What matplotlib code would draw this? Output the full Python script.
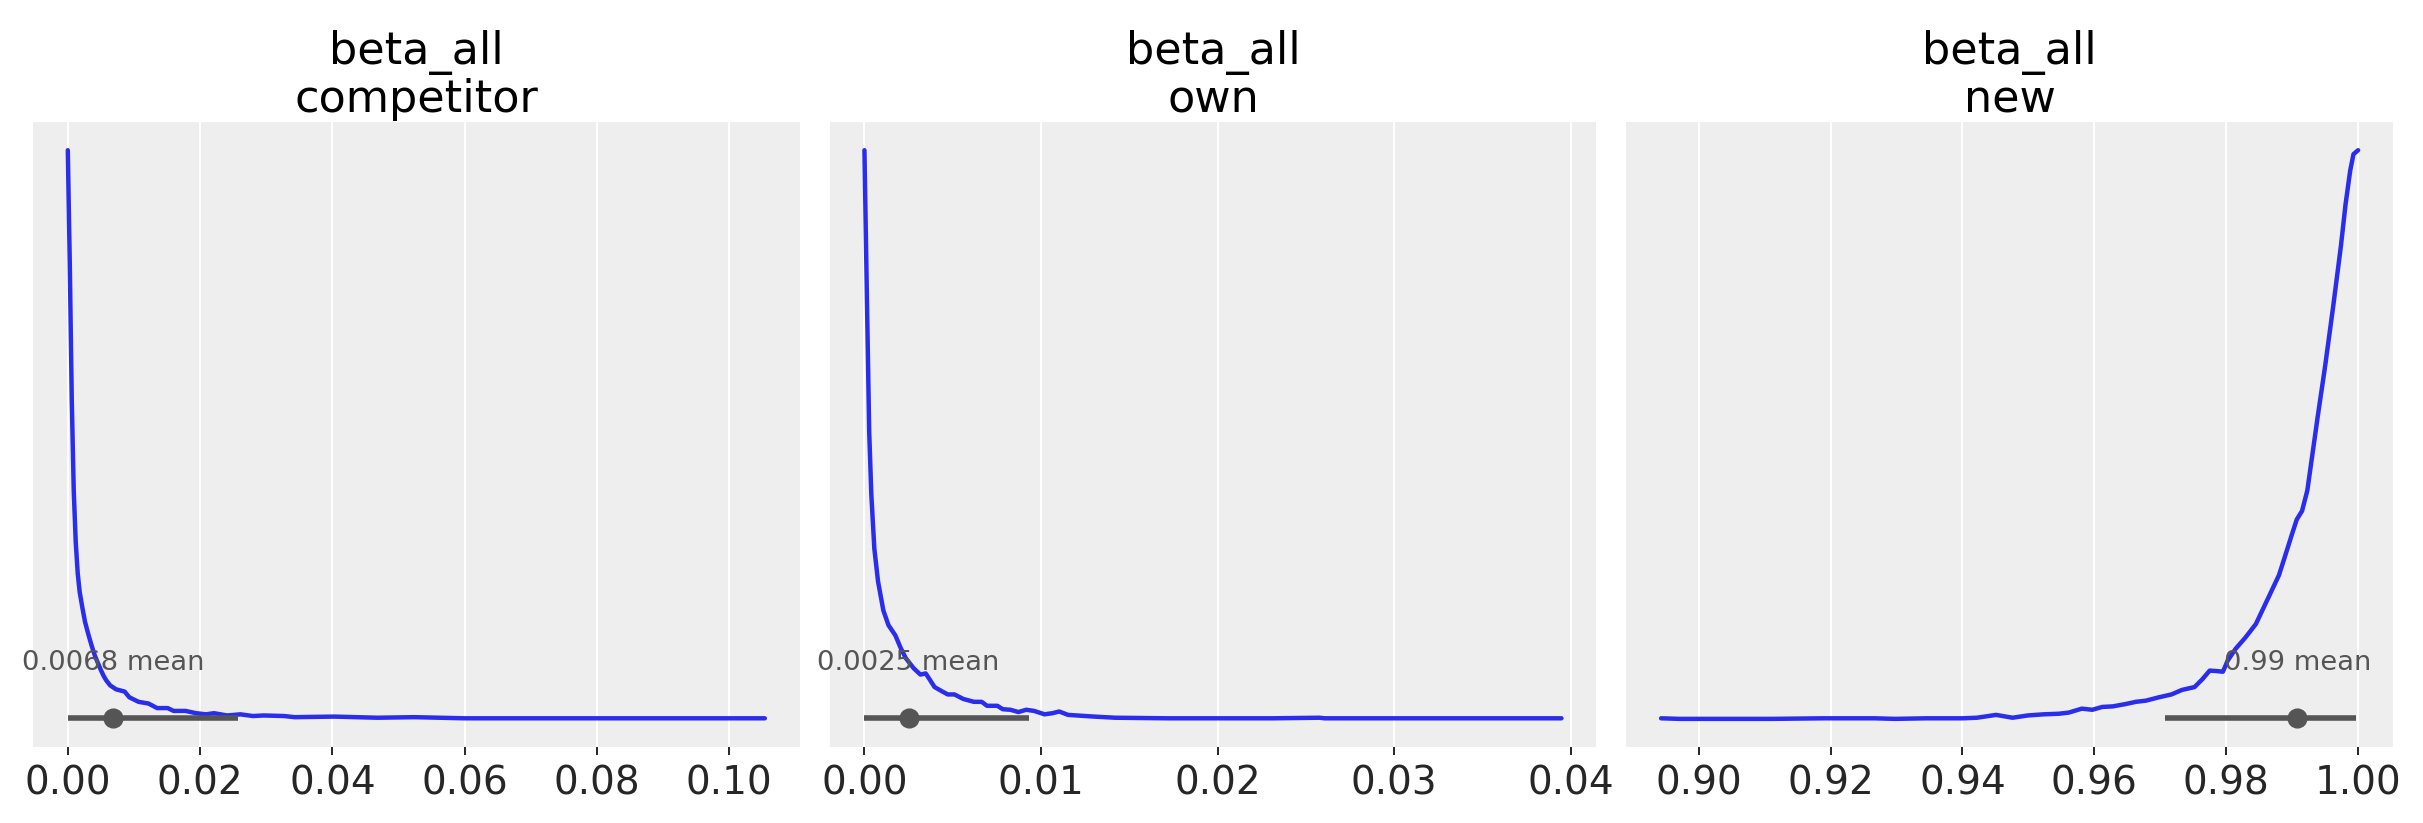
import numpy as np
import matplotlib
matplotlib.use("Agg")
import matplotlib.pyplot as plt

# --------------------------------------------------
# Values (density in arbitrary units, peak ~1)
# --------------------------------------------------
titles = ["beta_all\ncompetitor", "beta_all\nown", "beta_all\nnew"]

comp_x = [0.0, 0.0003, 0.0006, 0.0009, 0.0012, 0.0015, 0.0018, 0.0022, 0.0026, 0.0031,
          0.0036, 0.0041, 0.0046, 0.0050, 0.0054, 0.0058, 0.0064, 0.0073, 0.0086, 0.0093,
          0.0107, 0.0122, 0.0135, 0.0151, 0.0160, 0.0178, 0.0194, 0.0209, 0.0221, 0.0241,
          0.0261, 0.0280, 0.0296, 0.0327, 0.0343, 0.0403, 0.0468, 0.0524, 0.0600, 0.0700,
          0.0800, 0.0900, 0.1054]
comp_y = [1.000, 0.800, 0.560, 0.400, 0.310, 0.255, 0.222, 0.195, 0.170, 0.148,
          0.128, 0.110, 0.096, 0.085, 0.075, 0.067, 0.058, 0.051, 0.047, 0.037,
          0.029, 0.026, 0.018, 0.018, 0.013, 0.013, 0.009, 0.007, 0.009, 0.005,
          0.007, 0.004, 0.005, 0.004, 0.002, 0.003, 0.001, 0.002, 0.000, 0.000,
          0.000, 0.000, 0.000]

own_x = [0.0, 0.00015, 0.00027, 0.00039, 0.00056, 0.00077, 0.00107, 0.00136, 0.00175, 0.00205,
         0.00234, 0.00279, 0.00317, 0.00347, 0.00368, 0.00397, 0.00442, 0.00472, 0.00510, 0.00560,
         0.00620, 0.00664, 0.00694, 0.00753, 0.00783, 0.00827, 0.00872, 0.00916, 0.00961, 0.01020,
         0.01065, 0.01103, 0.01153, 0.01302, 0.01420, 0.01717, 0.02013, 0.02310, 0.02577, 0.02606,
         0.03200, 0.03947]
own_y = [1.000, 0.722, 0.504, 0.394, 0.299, 0.241, 0.190, 0.164, 0.146, 0.124,
         0.106, 0.088, 0.077, 0.079, 0.069, 0.055, 0.047, 0.042, 0.042, 0.034,
         0.029, 0.029, 0.022, 0.022, 0.016, 0.015, 0.011, 0.015, 0.013, 0.007,
         0.009, 0.012, 0.006, 0.003, 0.001, 0.000, 0.000, 0.000, 0.001, 0.000,
         0.000, 0.000]

new_x = [0.8943, 0.8971, 0.9111, 0.9189, 0.9267, 0.9298, 0.9344, 0.9400, 0.9422, 0.9451,
         0.9476, 0.9499, 0.9523, 0.9546, 0.9561, 0.9581, 0.9597, 0.9612, 0.9628, 0.9647,
         0.9663, 0.9678, 0.9698, 0.9717, 0.9733, 0.9752, 0.9764, 0.9775, 0.9787, 0.9795,
         0.9802, 0.9814, 0.9829, 0.9845, 0.9865, 0.9880, 0.9888, 0.9900, 0.9907, 0.9915,
         0.9923, 0.9931, 0.9939, 0.9950, 0.9962, 0.9974, 0.9981, 0.9988, 0.9993, 1.0000]
new_y = [0.000, -0.001, -0.001, 0.000, 0.000, -0.001, 0.000, 0.000, 0.001, 0.006,
         0.001, 0.005, 0.007, 0.008, 0.010, 0.017, 0.015, 0.020, 0.021, 0.025,
         0.029, 0.031, 0.037, 0.042, 0.050, 0.055, 0.069, 0.084, 0.083, 0.082,
         0.101, 0.122, 0.142, 0.166, 0.215, 0.252, 0.281, 0.325, 0.350, 0.365,
         0.401, 0.467, 0.533, 0.620, 0.723, 0.832, 0.905, 0.964, 0.993, 1.000]

means = [0.0068, 0.0025, 0.9908]
mean_labels = ["0.0068 mean", "0.0025 mean", "0.99 mean"]
hdi_low = [0.0, 0.0, 0.9707]
hdi_high = [0.0257, 0.00934, 0.9997]
ticks = [[0.00, 0.02, 0.04, 0.06, 0.08, 0.10],
         [0.00, 0.01, 0.02, 0.03, 0.04],
         [0.90, 0.92, 0.94, 0.96, 0.98, 1.00]]
tick_labels = [["0.00", "0.02", "0.04", "0.06", "0.08", "0.10"],
               ["0.00", "0.01", "0.02", "0.03", "0.04"],
               ["0.90", "0.92", "0.94", "0.96", "0.98", "1.00"]]

curves = [(comp_x, comp_y), (own_x, own_y), (new_x, new_y)]

# --------------------------------------------------
# Figure
# --------------------------------------------------
fig, axes = plt.subplots(1, 3, figsize=(24.23, 8.23), dpi=100)
fig.subplots_adjust(left=0.0136, right=0.9876, top=0.852, bottom=0.0927, wspace=0.039)

for i, ax in enumerate(axes):
    x, y = curves[i]
    ax.set_facecolor("#eeeeee")
    for s in ax.spines.values():
        s.set_visible(False)

    ax.plot(x, y, color="#2a2eec", lw=3.2, solid_capstyle="round", solid_joinstyle="round")
    ax.plot([hdi_low[i], hdi_high[i]], [0.0, 0.0], color="#555555", lw=4,
            solid_capstyle="butt")
    ax.plot([means[i]], [0.0], "o", color="#555555", markersize=13.5)
    ax.text(means[i], 0.085, mean_labels[i], ha="center", va="baseline",
            fontsize=19.7, color="#555555")

    ax.margins(x=0.05, y=0.05)
    ax.set_ylim(-0.05, 1.05)
    ax.set_yticks([])
    ax.set_xticks(ticks[i])
    ax.set_xticklabels(tick_labels[i])
    ax.tick_params(axis="x", labelsize=28, colors="#262626", length=6, width=1.4, pad=7)
    ax.grid(True, axis="x", color="white", lw=1.4)
    ax.set_axisbelow(True)
    ax.set_title(titles[i], fontsize=32, pad=7, linespacing=1.1)

plt.savefig("out.png", dpi=100)
